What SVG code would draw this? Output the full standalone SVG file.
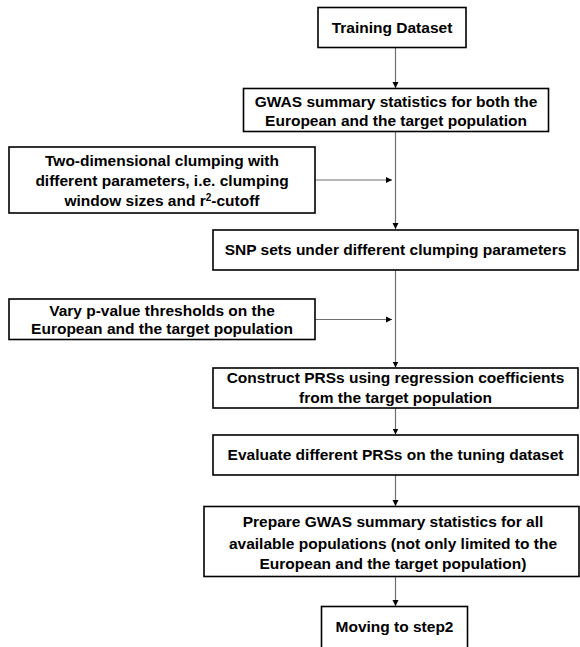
<svg xmlns="http://www.w3.org/2000/svg" width="580" height="647" viewBox="0 0 580 647">
<style>
.box{fill:#fff;stroke:#000;stroke-width:1.6}
.t{font-family:"Liberation Sans",Arial,sans-serif;font-weight:bold;font-size:15.5px;fill:#000;text-anchor:middle}
.c{stroke:#6e6e6e;stroke-width:1.2;fill:none;marker-end:url(#ah)}
</style>
<defs>
<marker id="ah" markerUnits="userSpaceOnUse" markerWidth="7" markerHeight="7" refX="6" refY="3.5" orient="auto">
<path d="M0,0.5 L6,3.5 L0,6.5 z" fill="#000"/>
</marker>
</defs>
<rect width="580" height="647" fill="#fff"/>
<g id="connectors">
<line class="c" x1="395.5" y1="47.5" x2="395.5" y2="88"/>
<line class="c" x1="395.5" y1="131.5" x2="395.5" y2="229"/>
<line class="c" x1="315" y1="180" x2="392" y2="180"/>
<line class="c" x1="395.5" y1="270" x2="395.5" y2="367.5"/>
<line class="c" x1="315" y1="319.5" x2="392" y2="319.5"/>
<line class="c" x1="395.5" y1="408" x2="395.5" y2="434.5"/>
<line class="c" x1="395.5" y1="475" x2="395.5" y2="506"/>
<line class="c" x1="395.5" y1="576.5" x2="395.5" y2="606"/>
</g>
<g id="training">
<rect class="box" x="318" y="7.5" width="148" height="40"/>
<text class="t" x="392" y="33">Training Dataset</text>
</g>
<g id="gwas">
<rect class="box" x="243.5" y="88.5" width="305" height="43"/>
<text class="t" x="396" y="107">GWAS summary statistics for both the</text>
<text class="t" x="396" y="126">European and the target population</text>
</g>
<g id="clumping">
<rect class="box" x="9" y="147" width="306" height="66"/>
<text class="t" x="162" y="165.5">Two-dimensional clumping with</text>
<text class="t" x="162" y="185.5">different parameters, i.e. clumping</text>
<text class="t" x="162" y="205.5">window sizes and r<tspan font-size="10" dy="-5">2</tspan><tspan dy="5">-cutoff</tspan></text>
</g>
<g id="snpsets">
<rect class="box" x="213" y="230" width="365" height="40"/>
<text class="t" x="395.5" y="255">SNP sets under different clumping parameters</text>
</g>
<g id="pvalue">
<rect class="box" x="9" y="299" width="306" height="40.5"/>
<text class="t" x="162" y="315.5">Vary p-value thresholds on the</text>
<text class="t" x="162" y="334">European and the target population</text>
</g>
<g id="construct">
<rect class="box" x="213" y="368" width="365" height="40"/>
<text class="t" x="395.5" y="383">Construct PRSs using regression coefficients</text>
<text class="t" x="395.5" y="402.5">from the target population</text>
</g>
<g id="evaluate">
<rect class="box" x="213" y="435" width="365" height="40"/>
<text class="t" x="395.5" y="460">Evaluate different PRSs on the tuning dataset</text>
</g>
<g id="prepare">
<rect class="box" x="204" y="506.5" width="375" height="70"/>
<text class="t" x="393" y="527">Prepare GWAS summary statistics for all</text>
<text class="t" x="393" y="548.5">available populations (not only limited to the</text>
<text class="t" x="393" y="569">European and the target population)</text>
</g>
<g id="moving">
<rect class="box" x="321.5" y="606.5" width="146" height="46"/>
<text class="t" x="394.5" y="632">Moving to step2</text>
</g>
</svg>
